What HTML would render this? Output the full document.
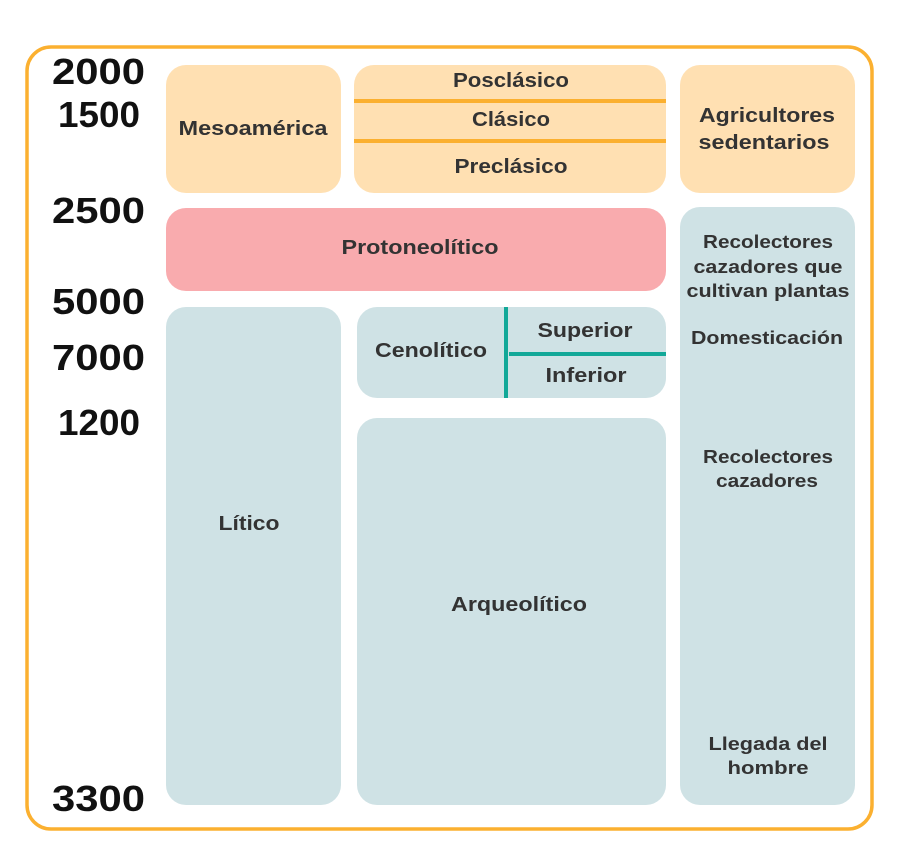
<!DOCTYPE html>
<html><head><meta charset="utf-8"><style>body{margin:0;background:#fff}svg{display:block}</style></head>
<body>
<svg width="900" height="859" viewBox="0 0 900 859" xmlns="http://www.w3.org/2000/svg" font-family="Liberation Sans, sans-serif">
<rect x="27" y="47" width="845" height="782" rx="24" fill="none" stroke="#FBB030" stroke-width="3.5"/>
<g fill="#FFE0B2">
<rect x="166" y="65" width="175" height="128" rx="20"/>
<rect x="354" y="65" width="312" height="128" rx="20"/>
<rect x="680" y="65" width="175" height="128" rx="20"/>
</g>
<rect x="354" y="99" width="312" height="4" fill="#FBB030"/>
<rect x="354" y="139" width="312" height="4" fill="#FBB030"/>
<rect x="166" y="208" width="500" height="83" rx="20" fill="#F9ABAE"/>
<g fill="#CFE2E5">
<rect x="680" y="207" width="175" height="598" rx="20"/>
<rect x="166" y="307" width="175" height="498" rx="20"/>
<rect x="357" y="307" width="309" height="91" rx="20"/>
<rect x="357" y="418" width="309" height="387" rx="20"/>
</g>
<rect x="504" y="307" width="4" height="91" fill="#12A898"/>
<rect x="509" y="352" width="157" height="4" fill="#12A898"/>
<g font-weight="bold" font-size="36" fill="#111">
<text x="52" y="84" textLength="93" lengthAdjust="spacingAndGlyphs">2000</text>
<text x="58" y="127" textLength="82" lengthAdjust="spacingAndGlyphs">1500</text>
<text x="52" y="223" textLength="93" lengthAdjust="spacingAndGlyphs">2500</text>
<text x="52" y="314" textLength="93" lengthAdjust="spacingAndGlyphs">5000</text>
<text x="52" y="370" textLength="93" lengthAdjust="spacingAndGlyphs">7000</text>
<text x="58" y="435" textLength="82" lengthAdjust="spacingAndGlyphs">1200</text>
<text x="52" y="811" textLength="93" lengthAdjust="spacingAndGlyphs">3300</text>
</g>
<g font-weight="bold" font-size="20" fill="#333" text-anchor="middle">
<text x="253" y="135" textLength="149" lengthAdjust="spacingAndGlyphs">Mesoamérica</text>
<text x="511" y="87" textLength="116" lengthAdjust="spacingAndGlyphs">Posclásico</text>
<text x="511" y="126" textLength="78" lengthAdjust="spacingAndGlyphs">Clásico</text>
<text x="511" y="173" textLength="113" lengthAdjust="spacingAndGlyphs">Preclásico</text>
<text x="767" y="122" textLength="136" lengthAdjust="spacingAndGlyphs">Agricultores</text>
<text x="764" y="149" textLength="131" lengthAdjust="spacingAndGlyphs">sedentarios</text>
<text x="420" y="254" textLength="157" lengthAdjust="spacingAndGlyphs">Protoneolítico</text>
<text x="431" y="357" textLength="112" lengthAdjust="spacingAndGlyphs">Cenolítico</text>
<text x="585" y="337" textLength="95" lengthAdjust="spacingAndGlyphs">Superior</text>
<text x="586" y="382" textLength="81" lengthAdjust="spacingAndGlyphs">Inferior</text>
<text x="249" y="530" textLength="61" lengthAdjust="spacingAndGlyphs">Lítico</text>
<text x="519" y="611" textLength="136" lengthAdjust="spacingAndGlyphs">Arqueolítico</text>
</g>
<g font-weight="bold" font-size="18" fill="#333" text-anchor="middle">
<text x="768" y="248" textLength="130" lengthAdjust="spacingAndGlyphs">Recolectores</text>
<text x="768" y="273" textLength="149" lengthAdjust="spacingAndGlyphs">cazadores que</text>
<text x="768" y="297" textLength="163" lengthAdjust="spacingAndGlyphs">cultivan plantas</text>
<text x="767" y="344" textLength="152" lengthAdjust="spacingAndGlyphs">Domesticación</text>
<text x="768" y="463" textLength="130" lengthAdjust="spacingAndGlyphs">Recolectores</text>
<text x="767" y="487" textLength="102" lengthAdjust="spacingAndGlyphs">cazadores</text>
<text x="768" y="750" textLength="119" lengthAdjust="spacingAndGlyphs">Llegada del</text>
<text x="768" y="774" textLength="81" lengthAdjust="spacingAndGlyphs">hombre</text>
</g>
</svg>
</body></html>
